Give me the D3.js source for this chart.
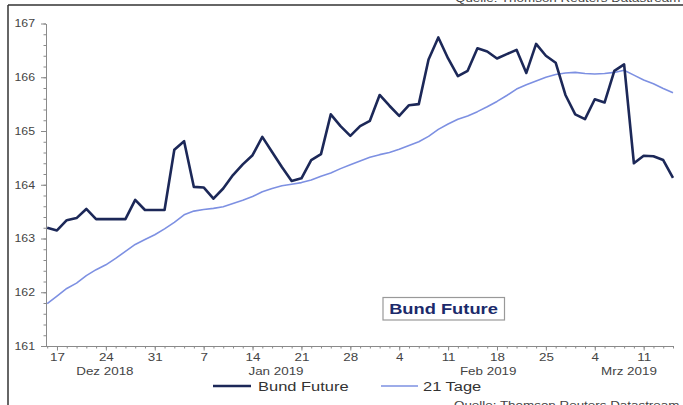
<!DOCTYPE html>
<html><head><meta charset="utf-8">
<script src="https://cdn.jsdelivr.net/npm/d3@7"></script>
<style>
html,body{margin:0;padding:0;background:#fff;overflow:hidden}
svg{display:block;font-family:"Liberation Sans",Arial,sans-serif}
</style></head>
<body>
<svg id="c" width="683" height="405"></svg>
<script>
// Business-day index 0 = Fr 14.12.2018 ... 64 = Do 14.03.2019
const bundFuture = [163.20,163.15,163.34,163.38,163.55,163.36,163.36,163.36,163.36,163.72,
  163.53,163.53,163.53,164.65,164.81,163.96,163.95,163.74,163.93,164.18,
  164.38,164.55,164.89,164.61,164.33,164.07,164.12,164.46,164.57,165.31,
  165.09,164.91,165.09,165.19,165.67,165.47,165.28,165.48,165.50,166.33,
  166.74,166.35,166.02,166.12,166.54,166.48,166.35,166.43,166.51,166.08,
  166.62,166.40,166.27,165.67,165.31,165.22,165.59,165.53,166.12,166.24,
  164.40,164.54,164.53,164.46,164.13];
const tage21 = [161.79,161.93,162.07,162.17,162.31,162.42,162.51,162.63,162.76,162.89,
  162.98,163.07,163.18,163.30,163.44,163.51,163.54,163.56,163.59,163.65,
  163.71,163.78,163.87,163.93,163.98,164.01,164.04,164.09,164.16,164.22,
  164.30,164.37,164.44,164.51,164.56,164.60,164.66,164.73,164.80,164.90,
  165.03,165.13,165.22,165.28,165.36,165.45,165.55,165.66,165.78,165.86,
  165.93,166.00,166.05,166.08,166.09,166.07,166.06,166.07,166.09,166.13,
  166.04,165.95,165.88,165.79,165.71];
const weekTickIdx = [1,6,11,16,21,26,31,36,41,46,51,56,61];
const weekTickLabels = ["17","24","31","7","14","21","28","4","11","18","25","4","11"];
const monthLabels = ["Dez 2018","Jan 2019","Feb 2019","Mrz 2019"];
const monthCenterIdx = [5.9,23.4,45.1,59.5];
const yTicks = [161,162,163,164,165,166,167];
const seriesNames = ["Bund Future","21 Tage"];
const sourceText = "Quelle: Thomson Reuters Datastream";

const svg = d3.select("#c");
const SX = 1.22; // horizontal text stretch of reference
const x = d3.scaleLinear().domain([0,64]).range([47.2,673]);
const y = d3.scaleLinear().domain([161,167]).range([346,23.5]);

// frame
svg.append("line").attr("x1",8).attr("x2",683).attr("y1",5).attr("y2",5).attr("stroke","#333").attr("stroke-width",1.5);
svg.append("line").attr("x1",8).attr("x2",8).attr("y1",5).attr("y2",405).attr("stroke","#333").attr("stroke-width",1.5);

function stretchText(sel, sx){
  sel.each(function(){
    const t = d3.select(this);
    const tx = +t.attr("x")||0, ty = +t.attr("y")||0;
    t.attr("x",null).attr("y",null).attr("transform",`translate(${tx},${ty}) scale(${sx},1)`);
  });
}
function txt(s, xx, yy, size, anchor, fill, weight){
  return svg.append("text").attr("transform",`translate(${xx},${yy}) scale(${SX},1)`)
    .attr("text-anchor",anchor).attr("font-size",size).attr("fill",fill)
    .attr("font-weight",weight||"normal").text(s);
}

// source texts (clipped at edges)
txt(sourceText, 455, 1.5, 11, "start", "#444");
txt(sourceText, 454, 409, 11, "start", "#444");

// y axis
const yMinor = svg.append("g").attr("transform","translate(46,0)")
  .call(d3.axisLeft(y).tickValues(d3.range(161,167.001,0.2)).tickSize(2.5).tickFormat(""));
yMinor.select(".domain").remove();
const yAx = svg.append("g").attr("transform","translate(46,0)")
  .call(d3.axisLeft(y).tickValues(yTicks).tickSize(5).tickSizeOuter(0).tickPadding(10).tickFormat(d3.format("d")));
svg.selectAll("g .tick line, g .domain").attr("stroke","#8a8a8a");
yAx.selectAll("text").attr("font-size",11).attr("fill","#444").attr("font-family","Liberation Sans, Arial, sans-serif");
yAx.selectAll(".tick text").each(function(){
  const t=d3.select(this); t.attr("dy",null).attr("dominant-baseline","middle")
   .attr("transform",`translate(-11,0.5) scale(1.12,1)`).attr("x",0);
});

// x axis
const xMinor = svg.append("g").attr("transform","translate(0,346)")
  .call(d3.axisBottom(x).tickValues(d3.range(0,65)).tickSize(2.5).tickFormat(""));
xMinor.select(".domain").remove();
const xAx = svg.append("g").attr("transform","translate(0,346)")
  .call(d3.axisBottom(x).tickValues(weekTickIdx).tickSize(4.5).tickSizeOuter(0).tickFormat((d,i)=>weekTickLabels[i]));
xAx.select(".domain").attr("d",`M46,0.5H673.5`);
svg.selectAll(".tick line, .domain").attr("stroke","#8a8a8a");
xAx.selectAll(".tick text").attr("font-size",11).attr("fill","#444").attr("font-family","Liberation Sans, Arial, sans-serif")
  .attr("dy",null).attr("y",null).attr("transform",`translate(0,15) scale(${SX},1)`);

// month labels
svg.append("g").selectAll("text").data(monthLabels).join("text")
  .attr("transform",(d,i)=>`translate(${x(monthCenterIdx[i])},375) scale(${SX},1)`)
  .attr("text-anchor","middle").attr("font-size",11).attr("fill","#444").text(d=>d);

// lines
const line = d3.line().x((d,i)=>x(i)).y(d=>y(d));
svg.append("path").datum(tage21).attr("d",line).attr("fill","none").attr("stroke","#7d90e2").attr("stroke-width",1.6).attr("stroke-linejoin","round");
svg.append("path").datum(bundFuture).attr("d",line).attr("fill","none").attr("stroke","#1c2858").attr("stroke-width",2.6).attr("stroke-linejoin","round");

// title box
svg.append("rect").attr("x",383).attr("y",297.5).attr("width",121.5).attr("height",22.5).attr("fill","#fff").attr("stroke","#999").attr("stroke-width",1.2);
txt("Bund Future", 443.5, 314, 15, "middle", "#1b2a6b", "bold");

// legend
const legendColors = ["#1c2858","#7d90e2"], legendW=[2.6,1.6], legX=[213,381];
seriesNames.forEach((n,i)=>{
  svg.append("line").attr("x1",legX[i]).attr("x2",legX[i]+(i?37:38)).attr("y1",386).attr("y2",386)
    .attr("stroke",legendColors[i]).attr("stroke-width",legendW[i]);
  txt(n, legX[i]+(i?42:45), 391, 13.5, "start", "#333");
});
</script>
</body></html>
